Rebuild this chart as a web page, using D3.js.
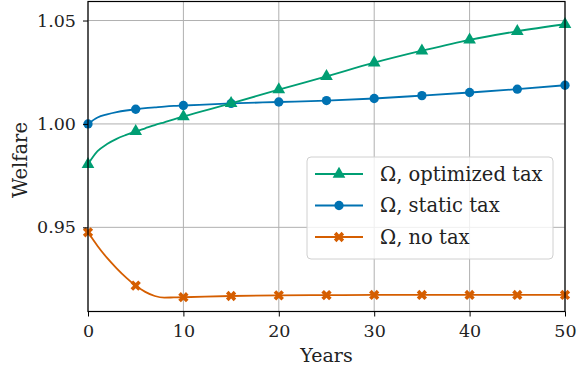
<!DOCTYPE html>
<html>
<head>
<meta charset="utf-8">
<script src="https://cdn.jsdelivr.net/npm/d3@7"></script>
<style>
  html, body { margin: 0; padding: 0; background: #fff; }
  svg text { font-family: "DejaVu Serif", serif; fill: #222; }
</style>
</head>
<body>
<svg id="chart" width="586" height="376"></svg>
<script>
// Years at which welfare is evaluated
const years = [0, 1, 2, 3, 4, 5, 6, 7, 8, 9, 10, 15, 20, 25, 30, 35, 40, 45, 50];
// Welfare under each policy
const optimizedTax = [0.9805, 0.9868, 0.9903, 0.9928, 0.9947, 0.9964, 0.9979, 0.9994, 1.0008, 1.0022, 1.0036, 1.0099, 1.0166, 1.0230, 1.0296, 1.0354, 1.0407, 1.0448, 1.0482];
const staticTax    = [1.0000, 1.0031, 1.0046, 1.0057, 1.0065, 1.0071, 1.0076, 1.0080, 1.0084, 1.0087, 1.0089, 1.0099, 1.0106, 1.0113, 1.0123, 1.0137, 1.0152, 1.0168, 1.0187];
const noTax        = [0.9476, 0.9410, 0.9352, 0.9302, 0.9257, 0.9218, 0.9188, 0.9168, 0.9160, 0.9161, 0.9162, 0.9168, 0.9171, 0.9172, 0.9173, 0.9173, 0.9173, 0.9173, 0.9173];
const xTicks = [0, 10, 20, 30, 40, 50];
const yTicks = [0.95, 1.00, 1.05];
const seriesNames = ["\u03A9, optimized tax", "\u03A9, static tax", "\u03A9, no tax"];

const svg = d3.select("#chart");
const M = { left: 88, right: 565, top: 1.5, bottom: 311.5 };
const FONT = "'DejaVu Serif', serif";

const x = d3.scaleLinear().domain([0, 50]).range([M.left, M.right]);
const y = d3.scaleLinear().domain([0.9093, 1.0592]).range([M.bottom, M.top]);

// grid
const grid = svg.append("g");
grid.selectAll(".vg").data(xTicks).join("line")
  .attr("x1", d => x(d)).attr("x2", d => x(d))
  .attr("y1", M.top).attr("y2", M.bottom)
  .attr("stroke", "#b0b0b0").attr("stroke-width", 1);
grid.selectAll(".hg").data(yTicks).join("line")
  .attr("x1", M.left).attr("x2", M.right)
  .attr("y1", d => y(d)).attr("y2", d => y(d))
  .attr("stroke", "#b0b0b0").attr("stroke-width", 1);

const series = [
  { name: seriesNames[0], values: optimizedTax, color: "#009E73", symbol: d3.symbolTriangle, size: 70, rotate: 0 },
  { name: seriesNames[1], values: staticTax,    color: "#0072B2", symbol: d3.symbolCircle,   size: 68, rotate: 0 },
  { name: seriesNames[2], values: noTax,        color: "#D55E00", symbol: d3.symbolCross,   size: 66, rotate: 45 }
];

const line = d3.line().x(d => x(d[0])).y(d => y(d[1])).curve(d3.curveMonotoneX);

const plot = svg.append("g");
series.slice().reverse().forEach(s => {
  const pts = years.map((yr, i) => [yr, s.values[i]]);
  plot.append("path").datum(pts)
    .attr("d", line).attr("fill", "none")
    .attr("stroke", s.color).attr("stroke-width", 1.8);
  plot.selectAll(null).data(pts.filter(p => p[0] % 5 === 0)).join("path")
    .attr("d", d3.symbol().type(s.symbol).size(s.size))
    .attr("transform", p => `translate(${x(p[0])},${y(p[1])}) rotate(${s.rotate})`)
    .attr("fill", s.color);
});

// axes
const xAxis = svg.append("g").attr("transform", `translate(0,${M.bottom})`)
  .call(d3.axisBottom(x).tickValues(xTicks).tickSize(5).tickPadding(5).tickFormat(d3.format("d")));
const yAxis = svg.append("g").attr("transform", `translate(${M.left},0)`)
  .call(d3.axisLeft(y).tickValues(yTicks).tickSize(5).tickPadding(7).tickFormat(d3.format(".2f")));
[xAxis, yAxis].forEach(a => {
  a.attr("font-family", FONT);
  a.select(".domain").remove();
  a.selectAll("line").attr("stroke", "#000").attr("stroke-width", 1);
  a.selectAll("text").attr("font-size", 17.5).attr("fill", "#222");
});
xAxis.selectAll("text").attr("dy", "0.9em");

// frame
svg.append("rect")
  .attr("x", M.left).attr("y", M.top)
  .attr("width", M.right - M.left).attr("height", M.bottom - M.top)
  .attr("fill", "none").attr("stroke", "#000").attr("stroke-width", 1.2);

// axis titles
svg.append("text").attr("x", (M.left + M.right) / 2).attr("y", 362)
  .attr("text-anchor", "middle").attr("font-size", 19).text("Years");
svg.append("text").attr("transform", "translate(27,160) rotate(-90)")
  .attr("text-anchor", "middle").attr("font-size", 19.5).text("Welfare");

// legend
const lg = svg.append("g").attr("transform", "translate(307,157)");
lg.append("rect").attr("width", 246).attr("height", 102).attr("rx", 4)
  .attr("fill", "rgba(255,255,255,0.8)").attr("stroke", "#d0d0d0").attr("stroke-width", 1);
series.forEach((s, i) => {
  const cy = 17 + i * 31.5;
  lg.append("line").attr("x1", 8).attr("x2", 56).attr("y1", cy).attr("y2", cy)
    .attr("stroke", s.color).attr("stroke-width", 1.8);
  lg.append("path").attr("d", d3.symbol().type(s.symbol).size(s.size)())
    .attr("transform", `translate(32,${cy}) rotate(${s.rotate})`).attr("fill", s.color);
  lg.append("text").attr("x", 73).attr("y", cy).attr("dy", "0.35em")
    .attr("font-size", 19.5).text(s.name);
});
</script>
</body>
</html>
